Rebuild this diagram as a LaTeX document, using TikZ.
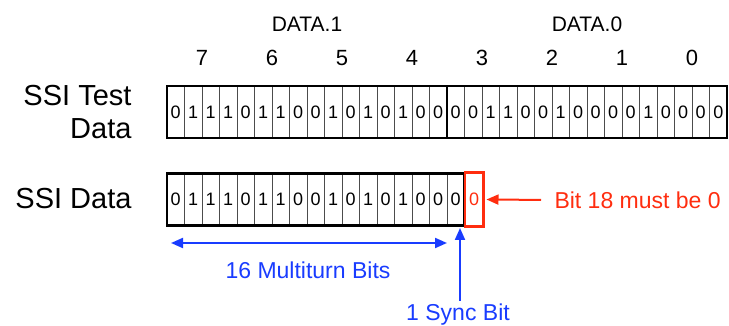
\documentclass[tikz,border=0pt]{standalone}
\usepackage{fontspec}
\setmainfont{Liberation Sans}
\usetikzlibrary{arrows.meta,chains,positioning}
\definecolor{ssired}{RGB}{255,45,15}
\definecolor{ssiblue}{RGB}{25,60,255}

\begin{document}
\begin{tikzpicture}[x=1pt, y=-1pt,
node distance=0pt,
  bit/.style = {rectangle, draw=black!70, line width=0.8pt,% one cell of a register
                minimum width=17.5pt, minimum height=52pt,
                inner sep=0pt, outer sep=0pt, on chain,
                font=\fontsize{18}{18}\selectfont},
  redbit/.style = {rectangle, draw=ssired, line width=2.5pt, text=ssired,
                minimum width=18.5pt, minimum height=54pt,
                inner sep=0pt, outer sep=0pt,
                font=\fontsize{18}{18}\selectfont},
  rowlbl/.style = {font=\fontsize{29}{33}\selectfont, align=right, anchor=east},
  reglbl/.style = {font=\fontsize{21}{21}\selectfont},
  numlbl/.style = {font=\fontsize{22}{22}\selectfont},
  bluelbl/.style = {font=\fontsize{23}{23}\selectfont, text=ssiblue},
  tip/.tip = {Triangle[length=12pt,width=10pt]},
  ptr/.style = {line width=2pt, -tip},
                        ]
\useasboundingbox (0,0) rectangle (729,326);
% SSI test data, 32 bits
\begin{scope}[start chain = A going right]
\node[bit] at (175.75,112) {0};
\foreach \b in {1,1,1,0,1,1,0,0,1,0,1,0,1,0,0,% <-- content of cells
                0,0,1,1,0,0,1,0,0,0,0,1,0,0,0,0}
    \node[bit] {\b};
\end{scope}
\draw[line width=2.5pt] (A-1.north west) rectangle (A-32.south east);
\draw[line width=2.5pt] (A-16.north east) -- (A-16.south east);
\node[rowlbl] (testlbl) at (135,112) {SSI Test\\Data};
% register names and byte numbers
\node[reglbl] (data1) at (A-8.north east |- 0,24) {DATA.1};
\node[reglbl] (data0) at (A-24.north east |- 0,24) {DATA.0};
\foreach \k [count=\i from 0] in {7,6,5,4,3,2,1,0}
    \node[numlbl] (byte\k) at (202+70*\i,58) {\k};
% SSI data, 17 bits + bit 18
\begin{scope}[start chain = B going right]
\node[bit] at (175.75,199.5) {0};
\foreach \b in {1,1,1,0,1,1,0,0,1,0,1,0,1,0,0,0}% <-- content of cells
    \node[bit] {\b};
\end{scope}
\draw[line width=2.5pt] (B-1.north west) rectangle (B-17.south east);
\node[redbit, right=0.5pt of B-17] (bit18) {0};
\node[rowlbl] (datalbl) at (135,199) {SSI Data};
% notes
\node[font=\fontsize{23}{23}\selectfont, text=ssired, anchor=west] (mustbe) at (551,200) {Bit 18 must be 0};
\draw[ptr, ssired, shorten <=10pt] (mustbe.west) -- ([xshift=3pt]bit18.east);
\coordinate (mt-l) at (171,243);
\coordinate (mt-r) at (447,243);
\draw[ptr, tip-tip, ssiblue] (mt-l) -- (mt-r);
\node[bluelbl] (multi) at (308,270) {16 Multiturn Bits};
\node[bluelbl] (sync) at (458,315) {1 Sync Bit};
\coordinate (synctip) at (460,228);
\draw[ptr, ssiblue] (sync.north -| synctip) -- (synctip);
\end{tikzpicture}
\end{document}
